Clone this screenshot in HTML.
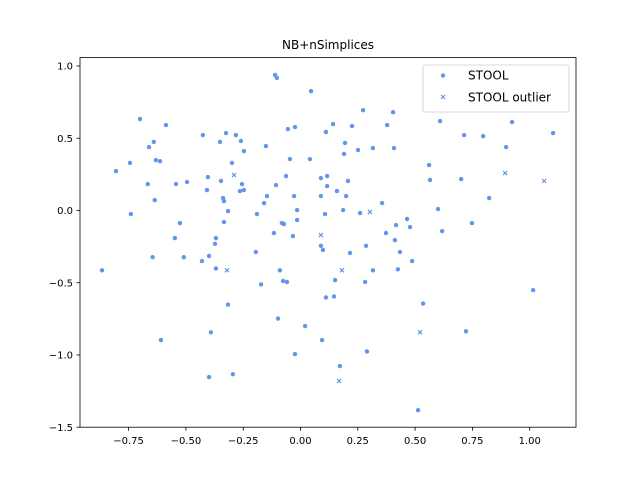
<!DOCTYPE html>
<html><head><meta charset="utf-8"><style>body{margin:0;background:#fff}svg{display:block;font-family:"DejaVu Sans","Liberation Sans",sans-serif}</style></head>
<body>
<svg id="chart" width="640" height="480" viewBox="0 0 640 480"></svg>
<script>
const xTicks=[-0.75,-0.5,-0.25,0,0.25,0.5,0.75,1.0];
const xTickLabels=["−0.75","−0.50","−0.25","0.00","0.25","0.50","0.75","1.00"];
const yTicks=[-1.5,-1.0,-0.5,0,0.5,1.0];
const yTickLabels=["−1.5","−1.0","−0.5","0.0","0.5","1.0"];
const stoolX=[-0.866,-0.805,-0.744,-0.740,-0.700,-0.666,-0.661,-0.640,-0.645,-0.636,-0.631,-0.613,-0.609,-0.587,-0.548,-0.543,-0.526,-0.509,-0.495,-0.430,-0.426,-0.408,-0.404,-0.399,-0.399,-0.391,-0.373,-0.369,-0.369,-0.351,-0.347,-0.338,-0.334,-0.334,-0.325,-0.316,-0.316,-0.299,-0.295,-0.282,-0.264,-0.260,-0.255,-0.247,-0.247,-0.195,-0.190,-0.172,-0.159,-0.151,-0.146,-0.116,-0.111,-0.107,-0.103,-0.098,-0.090,-0.081,-0.076,-0.072,-0.063,-0.059,-0.055,-0.046,-0.033,-0.028,-0.024,-0.024,-0.015,-0.015,0.020,0.041,0.046,0.089,0.089,0.089,0.094,0.098,0.107,0.111,0.111,0.116,0.116,0.142,0.146,0.151,0.159,0.172,0.186,0.190,0.194,0.199,0.207,0.216,0.225,0.251,0.260,0.273,0.282,0.286,0.290,0.316,0.316,0.356,0.373,0.378,0.404,0.408,0.412,0.417,0.425,0.434,0.465,0.478,0.487,0.513,0.535,0.561,0.565,0.600,0.609,0.618,0.701,0.714,0.722,0.748,0.797,0.823,0.897,0.923,1.015,1.102];
const stoolY=[-0.414,0.273,0.329,-0.025,0.633,0.183,0.439,0.474,-0.323,0.072,0.349,0.341,-0.897,0.591,-0.191,0.183,-0.087,-0.323,0.197,-0.350,0.522,0.141,0.231,-0.315,-1.153,-0.843,-0.231,-0.191,-0.401,0.474,0.204,0.086,-0.080,0.065,0.536,-0.651,-0.004,0.329,-1.133,0.522,0.134,0.481,0.183,0.141,0.411,-0.287,-0.025,-0.512,0.051,0.446,0.100,-0.156,0.938,0.176,0.917,-0.748,-0.414,-0.087,-0.488,-0.094,0.238,-0.495,0.563,0.356,-0.177,0.100,0.577,-0.994,-0.066,0.003,-0.800,0.356,0.826,-0.245,0.224,0.100,-0.897,-0.273,-0.025,-0.602,0.543,0.238,0.169,0.598,-0.595,-0.482,0.134,-1.077,0.003,0.391,0.467,0.100,0.204,-0.294,0.584,0.418,-0.018,0.694,-0.495,-0.245,-0.976,-0.414,0.432,0.051,-0.156,0.591,0.680,0.432,-0.205,-0.101,-0.407,-0.287,-0.059,-0.115,-0.350,-1.382,-0.644,0.314,0.211,0.010,0.619,-0.143,0.217,0.522,-0.836,-0.087,0.515,0.086,0.439,0.612,-0.551,0.536];
const outX=[-0.321,-0.290,0.089,0.168,0.181,0.303,0.522,0.893,1.063];
const outY=[-0.414,0.245,-0.170,-1.181,-0.414,-0.011,-0.843,0.259,0.204];
const L=80,R=576,T=57.6,B=427.2,X0=-0.962,X1=1.202,Y0=-1.5,Y1=1.058;
const sx=v=>L+(v-X0)/(X1-X0)*(R-L);
const sy=v=>B-(v-Y0)/(Y1-Y0)*(B-T);
const NS="http://www.w3.org/2000/svg",svg=document.getElementById('chart');
function mk(t,a,p){const e=document.createElementNS(NS,t);for(const k in a)e.setAttribute(k,a[k]);(p||svg).appendChild(e);return e;}
const C="#6495ED";
let t=mk('text',{x:328,y:49,'text-anchor':'middle','font-size':12});t.textContent="NB+nSimplices";


xTicks.forEach((v,i)=>{const x=sx(v);
 let l=mk('line',{x1:x,x2:x,y1:B,y2:B+3.5,stroke:'#000','stroke-width':0.8});
 
 
 let tx=mk('text',{x:x,y:B+17,'text-anchor':'middle','font-size':10});tx.textContent=xTickLabels[i];
 
 });
yTicks.forEach((v,i)=>{const y=sy(v);
 let l=mk('line',{x1:L-3.5,x2:L,y1:y,y2:y,stroke:'#000','stroke-width':0.8});
 
 
 let tx=mk('text',{x:L-7,y:y+3.6,'text-anchor':'end','font-size':10});tx.textContent=yTickLabels[i];
 
 });
stoolX.forEach((v,i)=>{let c=mk('circle',{cx:sx(v),cy:sy(stoolY[i]),r:2.2,fill:C});
 
 });
function cross(x,y,g){mk('path',{d:`M${x-2},${y-2}L${x+2},${y+2}M${x-2},${y+2}L${x+2},${y-2}`,stroke:C,'stroke-width':1.2,fill:'none'},g);}
outX.forEach((v,i)=>{const g=mk('g',{});
 
 
 cross(sx(v),sy(outY[i]),g);});
let fr=mk('rect',{x:L,y:T,width:R-L,height:B-T,fill:'none',stroke:'#000','stroke-width':0.8});


const lg=mk('g',{});


mk('rect',{x:423,y:65,width:146,height:47,rx:2,fill:'#fff',stroke:'#ccc','stroke-width':0.8},lg);
mk('circle',{cx:443,cy:75.5,r:2.2,fill:C},lg);
let t1=mk('text',{x:468,y:79.5,'font-size':12},lg);t1.textContent="STOOL";


cross(443,97,lg);
let t2=mk('text',{x:468,y:101.5,'font-size':12},lg);t2.textContent="STOOL outlier";


</script>
</body></html>
